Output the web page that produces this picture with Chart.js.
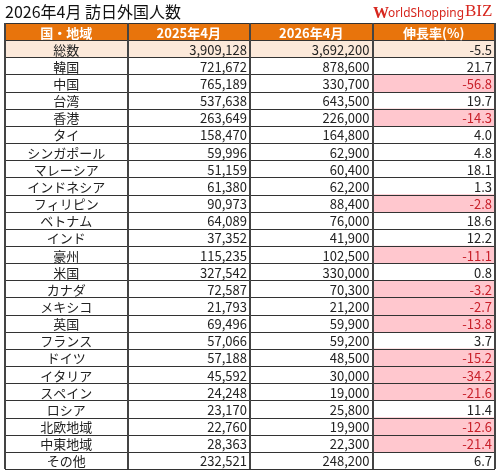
<!DOCTYPE html>
<html><head><meta charset="utf-8">
<script src="https://cdn.jsdelivr.net/npm/chart.js@4"></script>
<style>html,body{margin:0;padding:0;background:#fff}#w{position:relative;width:501px;height:474px}</style>
</head><body><div id="w"><canvas id="c"></canvas></div>
<script>
const title = "2026年4月 訪日外国人数";
const headers = ["国・地域", "2025年4月", "2026年4月", "伸長率(%)"];
const regions = ["総数","韓国","中国","台湾","香港","タイ","シンガポール","マレーシア","インドネシア","フィリピン","ベトナム","インド","豪州","米国","カナダ","メキシコ","英国","フランス","ドイツ","イタリア","スペイン","ロシア","北欧地域","中東地域","その他"];
const visitors2025 = [3909128,721672,765189,537638,263649,158470,59996,51159,61380,90973,64089,37352,115235,327542,72587,21793,69496,57066,57188,45592,24248,23170,22760,28363,232521];
const visitors2026 = [3692200,878600,330700,643500,226000,164800,62900,60400,62200,88400,76000,41900,102500,330000,70300,21200,59900,59200,48500,30000,19000,25800,19900,22300,248200];
const growth = [-5.5,21.7,-56.8,19.7,-14.3,4.0,4.8,18.1,1.3,-2.8,18.6,12.2,-11.1,0.8,-3.2,-2.7,-13.8,3.7,-15.2,-34.2,-21.6,11.4,-12.6,-21.4,6.7];

const rows = ["header", ...regions];
const fmt = n => n.toLocaleString('en-US');
const FONT = '"Noto Sans CJK JP", "Noto Sans", sans-serif';

const headerBg = rows.map((r,i)=> i===0 ? [0,4] : null);
const totalBg = rows.map((r,i)=> i===1 ? [0,4] : null);
const negBg = rows.map((r,i)=> i>1 && growth[i-1] < 0 ? [3,4] : null);

const tablePlugin = {
  id:'table',
  afterDatasetsDraw(chart){
    const {ctx, scales:{x,y}} = chart;
    const band = y.getPixelForValue(1) - y.getPixelForValue(0);
    const top = y.getPixelForValue(0) - band/2, bot = y.getPixelForValue(rows.length-1) + band/2;
    const L = x.getPixelForValue(0), R = x.getPixelForValue(4);
    ctx.save();
    ctx.strokeStyle = '#333'; ctx.lineWidth = 1;
    for (let i=0;i<=rows.length;i++){
      const yy = Math.round(y.getPixelForValue(i) - band/2)+0.5;
      ctx.beginPath(); ctx.moveTo(L,yy); ctx.lineTo(R,yy); ctx.stroke();
    }
    ctx.strokeStyle = '#444'; ctx.lineWidth = 2;
    for (let c=0;c<=4;c++){
      const xx = Math.round(x.getPixelForValue(c));
      ctx.beginPath(); ctx.moveTo(xx,top); ctx.lineTo(xx,bot); ctx.stroke();
    }
    ctx.textBaseline='middle';
    rows.forEach((r,i)=>{
      const cy = y.getPixelForValue(i)+1;
      if (i===0){
        ctx.font = 'bold 13px '+FONT; ctx.fillStyle='#fff'; ctx.textAlign='center';
        headers.forEach((h,c)=> ctx.fillText(h, x.getPixelForValue(c+0.5), cy));
        return;
      }
      const k=i-1;
      ctx.font = '13px '+FONT; ctx.fillStyle='#222';
      ctx.textAlign='center'; ctx.fillText(regions[k], x.getPixelForValue(0.5), cy);
      ctx.textAlign='right';
      ctx.fillText(fmt(visitors2025[k]), x.getPixelForValue(2)-3, cy);
      ctx.fillText(fmt(visitors2026[k]), x.getPixelForValue(3)-3, cy);
      ctx.fillStyle = (growth[k]<0 && k>0) ? '#C8202A' : '#222';
      ctx.fillText(growth[k].toFixed(1), x.getPixelForValue(4)-3, cy);
    });
    ctx.restore();
  },
  afterDraw(chart){
    const ctx = chart.ctx;
    ctx.save();
    ctx.textBaseline='middle'; ctx.textAlign='left';
    ctx.fillStyle='#111'; ctx.font='16px '+FONT;
    ctx.fillText(title, 5, 12);
    ctx.fillStyle='#D7261E'; ctx.font='bold 16px "Liberation Serif", serif';
    ctx.fillText('W', 373, 14);
    ctx.font='12px "Noto Sans", sans-serif';
    const w = ctx.measureText('orldShopping').width;
    ctx.save(); ctx.translate(388,14); ctx.scale(76/w,1);
    ctx.fillText('orldShopping', 0, 0); ctx.restore();
    ctx.font='17px "Liberation Serif", serif';
    ctx.fillText('BIZ', 465, 12);
    ctx.restore();
  }
};

new Chart(document.getElementById('c'), {
  type:'bar',
  data:{ labels: rows, datasets:[
    {data: headerBg, backgroundColor:'#E8740C'},
    {data: totalBg, backgroundColor:'#FCE9DA'},
    {data: negBg, backgroundColor:'#FFC7CE'}
  ]},
  options:{
    indexAxis:'y', responsive:true, maintainAspectRatio:false, animation:false,
    devicePixelRatio:1,
    layout:{padding:{left:5,right:6,top:23,bottom:5}},
    datasets:{bar:{barPercentage:1,categoryPercentage:1,grouped:false,borderWidth:0}},
    plugins:{legend:{display:false},tooltip:{enabled:false},title:{display:false}},
    scales:{
      x:{type:'linear',min:0,max:4,display:false},
      y:{type:'category',display:false,offset:true}
    }
  },
  plugins:[tablePlugin]
});
</script></body></html>
